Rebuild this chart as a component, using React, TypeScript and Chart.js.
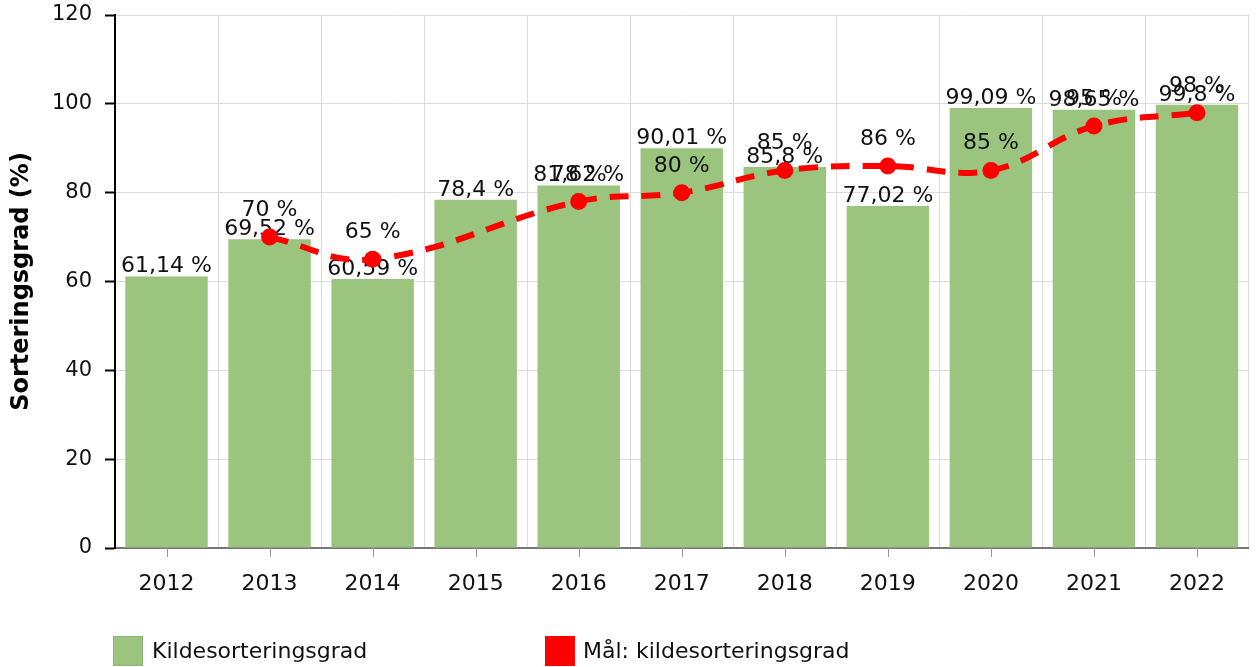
import React, { useEffect, useRef } from "react";
import { Chart, registerables } from "chart.js";

Chart.register(...registerables);

const years = ["2012", "2013", "2014", "2015", "2016", "2017", "2018", "2019", "2020", "2021", "2022"];
const sortingRate = [61.14, 69.52, 60.59, 78.4, 81.62, 90.01, 85.8, 77.02, 99.09, 98.65, 99.8];
const targetRate: (number | null)[] = [null, 70, 65, null, 78, 80, 85, 86, 85, 95, 98];
const yMax = 120;
const yStep = 20;
const barLabel = "Kildesorteringsgrad";
const lineLabel = "Mål: kildesorteringsgrad";
const yTitle = "Sorteringsgrad (%)";

const FONT = "'DejaVu Sans', Verdana, sans-serif";
const BAR_COLOR = "#9bc47e";
const LINE_COLOR = "#ff0000";

const fmt = (v: number) => String(v).replace(".", ",") + " %";

const labelPlugin = {
  id: "valueLabels",
  afterDatasetDraw(chart: any, args: any) {
    const ctx = chart.ctx;
    const meta = args.meta;
    const ds = chart.data.datasets[args.index];
    ctx.save();
    ctx.font = `22px ${FONT}`;
    ctx.fillStyle = "#111";
    ctx.textAlign = "center";
    ctx.textBaseline = "alphabetic";
    meta.data.forEach((el: any, i: number) => {
      const v = ds.data[i];
      if (v === null || v === undefined) return;
      if (meta.type === "bar") {
        ctx.fillText(fmt(v), el.x, el.y - 4);
      } else {
        ctx.fillText(fmt(v), el.x, el.y - 21);
      }
    });
    ctx.restore();
  },
  afterDraw(chart: any) {
    const ctx = chart.ctx;
    const xs = chart.scales.x;
    ctx.save();
    ctx.strokeStyle = "#999";
    ctx.lineWidth = 1;
    years.forEach((_, i) => {
      const x = Math.round(xs.getPixelForValue(i)) + 0.5;
      ctx.beginPath();
      ctx.moveTo(x, xs.top);
      ctx.lineTo(x, xs.top + 9);
      ctx.stroke();
    });
    ctx.restore();
  },
};

export default function App() {
  const ref = useRef<HTMLCanvasElement | null>(null);

  useEffect(() => {
    if (!ref.current) return;
    const chart = new Chart(ref.current, {
      type: "bar",
      data: {
        labels: years,
        datasets: [
          {
            type: "bar",
            label: barLabel,
            data: sortingRate,
            backgroundColor: BAR_COLOR,
            borderWidth: 0,
            categoryPercentage: 0.8,
            barPercentage: 1,
            order: 2,
          } as any,
          {
            type: "line",
            label: lineLabel,
            data: targetRate,
            borderColor: LINE_COLOR,
            backgroundColor: LINE_COLOR,
            borderWidth: 6,
            borderDash: [19, 13],
            pointRadius: 8.5,
            pointBackgroundColor: LINE_COLOR,
            pointBorderWidth: 0,
            tension: 0.4,
            spanGaps: true,
            order: 1,
          } as any,
        ],
      },
      options: {
        responsive: false,
        animation: false,
        layout: { padding: { top: 15, right: 7, left: 0, bottom: 0 } },
        plugins: {
          legend: { display: false },
          tooltip: { enabled: false },
        },
        scales: {
          x: {
            grid: {
              display: true,
              offset: true,
              color: "#dcdcdc",
              drawTicks: false,
              tickLength: 0,
            },
            border: { display: true, color: "#777", width: 2 },
            ticks: {
              font: { family: FONT, size: 22 },
              color: "#111",
              padding: 23,
              maxRotation: 0,
            },
            afterFit: (scale: any) => {
              scale.height = 119;
              scale.paddingLeft = 0;
              scale.paddingRight = 0;
            },
          },
          y: {
            min: 0,
            max: yMax,
            grid: {
              color: "#dcdcdc",
              tickColor: "#000",
              tickLength: 10,
              tickWidth: 2,
            },
            border: { display: true, color: "#000", width: 2 },
            ticks: {
              stepSize: yStep,
              font: { family: FONT, size: 21 },
              color: "#111",
              padding: 13,
            },
            title: {
              display: true,
              text: yTitle,
              font: { family: FONT, size: 24, weight: "bold" },
              color: "#000",
              padding: { top: 7, bottom: 0 },
            },
            afterFit: (scale: any) => {
              scale.width = 115;
              scale.paddingTop = 0;
              scale.paddingBottom = 0;
            },
          },
        },
      },
      plugins: [labelPlugin],
    });
    return () => chart.destroy();
  }, []);

  const legendText: React.CSSProperties = {
    position: "absolute",
    fontFamily: FONT,
    fontSize: 22,
    color: "#111",
    lineHeight: "30px",
    whiteSpace: "nowrap",
  };

  return (
    <div style={{ position: "absolute", left: 0, top: 0, width: 1257, height: 667, background: "#fff" }}>
      <canvas ref={ref} width={1257} height={667} style={{ display: "block" }} />
      <div style={{ position: "absolute", left: 113, top: 636, width: 30, height: 30, background: BAR_COLOR, boxSizing: "border-box", border: "1px solid #8cb86d" }} />
      <div style={{ ...legendText, left: 152, top: 636 }}>{barLabel}</div>
      <div style={{ position: "absolute", left: 545, top: 636, width: 30, height: 30, background: LINE_COLOR }} />
      <div style={{ ...legendText, left: 583, top: 636 }}>{lineLabel}</div>
    </div>
  );
}
